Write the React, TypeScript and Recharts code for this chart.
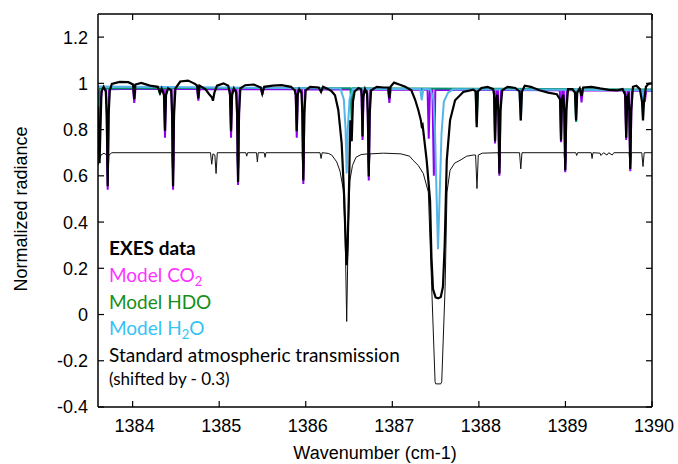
import { LineChart, Line, XAxis, YAxis } from "recharts";

// wavenumber (cm-1), normalized radiance
const exesData: [number, number][] = [
  [1383.6, 0.9], [1383.61, 0.7], [1383.618, 0.655], [1383.628, 0.8], [1383.64, 0.965],
  [1383.665, 0.985], [1383.69, 0.965], [1383.702, 0.86], [1383.712, 0.555], [1383.722, 0.86],
  [1383.737, 0.97], [1383.76, 0.998], [1383.85, 1.006], [1383.95, 1.005], [1384.005, 0.995],
  [1384.019, 0.932], [1384.032, 0.995], [1384.1, 1.002], [1384.2, 0.99], [1384.29, 0.985],
  [1384.316, 0.958], [1384.335, 0.978], [1384.362, 0.95], [1384.374, 0.795], [1384.386, 0.95],
  [1384.41, 0.978], [1384.445, 0.97], [1384.456, 0.87], [1384.467, 0.555], [1384.478, 0.87],
  [1384.495, 0.978], [1384.55, 1.008], [1384.64, 1.012], [1384.72, 0.998], [1384.745, 0.99],
  [1384.759, 0.935], [1384.772, 0.99], [1384.84, 0.975], [1384.88, 0.955], [1384.915, 0.94],
  [1384.928, 0.925], [1384.945, 0.96], [1384.975, 0.99], [1385.05, 1.0], [1385.105, 0.99],
  [1385.125, 0.95], [1385.137, 0.793], [1385.149, 0.95], [1385.17, 0.978], [1385.196, 0.96],
  [1385.207, 0.87], [1385.218, 0.573], [1385.229, 0.87], [1385.245, 0.978], [1385.3, 0.992],
  [1385.4, 0.995], [1385.48, 0.982], [1385.498, 0.955], [1385.52, 0.985], [1385.62, 0.99],
  [1385.72, 0.992], [1385.83, 0.985], [1385.872, 0.97], [1385.885, 0.95], [1385.896, 0.793],
  [1385.907, 0.95], [1385.925, 0.975], [1385.95, 0.96], [1385.961, 0.87], [1385.972, 0.58],
  [1385.983, 0.87], [1386.0, 0.97], [1386.05, 0.985], [1386.15, 0.982], [1386.177, 0.963],
  [1386.2, 0.985], [1386.26, 0.975], [1386.3, 0.965], [1386.338, 0.948], [1386.376, 0.885],
  [1386.415, 0.74], [1386.445, 0.5], [1386.462, 0.3], [1386.473, 0.213], [1386.484, 0.3],
  [1386.5, 0.55], [1386.515, 0.84], [1386.531, 0.75], [1386.545, 0.92], [1386.565, 0.965],
  [1386.61, 0.98], [1386.64, 0.975], [1386.648, 0.94], [1386.656, 0.77], [1386.664, 0.94],
  [1386.685, 0.975], [1386.708, 0.955], [1386.718, 0.86], [1386.728, 0.597], [1386.738, 0.86],
  [1386.755, 0.97], [1386.82, 0.985], [1386.9, 0.982], [1386.953, 0.982], [1386.966, 0.935],
  [1386.979, 0.985], [1387.02, 1.003], [1387.08, 0.995], [1387.15, 0.985], [1387.22, 0.97],
  [1387.263, 0.93], [1387.3, 0.885], [1387.33, 0.84], [1387.34, 0.815], [1387.35, 0.82],
  [1387.397, 0.667], [1387.436, 0.494], [1387.452, 0.25], [1387.47, 0.11], [1387.5, 0.074],
  [1387.53, 0.07], [1387.56, 0.076], [1387.585, 0.12], [1387.605, 0.3], [1387.629, 0.667],
  [1387.667, 0.84], [1387.725, 0.927], [1387.82, 0.963], [1387.935, 0.973], [1387.963, 0.965],
  [1387.975, 0.81], [1387.988, 0.965], [1388.03, 0.98], [1388.1, 0.985], [1388.165, 0.975],
  [1388.176, 0.95], [1388.187, 0.75], [1388.199, 0.93], [1388.214, 0.95], [1388.225, 0.88],
  [1388.237, 0.61], [1388.249, 0.88], [1388.27, 0.97], [1388.33, 0.985], [1388.42, 0.98],
  [1388.47, 0.965], [1388.484, 0.84], [1388.498, 0.965], [1388.53, 0.99], [1388.6, 0.985],
  [1388.7, 0.97], [1388.8, 0.96], [1388.9, 0.953], [1388.938, 0.93], [1388.949, 0.753],
  [1388.96, 0.93], [1388.975, 0.95], [1388.987, 0.88], [1388.998, 0.624], [1389.01, 0.88],
  [1389.03, 0.975], [1389.08, 0.975], [1389.11, 0.96], [1389.123, 0.84], [1389.136, 0.96],
  [1389.165, 0.978], [1389.186, 0.945], [1389.205, 0.982], [1389.3, 0.985], [1389.4, 0.978],
  [1389.5, 0.972], [1389.6, 0.97], [1389.66, 0.975], [1389.69, 0.95], [1389.702, 0.765],
  [1389.714, 0.94], [1389.728, 0.95], [1389.738, 0.88], [1389.749, 0.63], [1389.76, 0.88],
  [1389.78, 0.985], [1389.82, 0.99], [1389.86, 0.975], [1389.885, 0.92], [1389.896, 0.84],
  [1389.907, 0.92], [1389.93, 0.985], [1389.96, 0.998], [1390.0, 1.0],
];

const co2Model: [number, number][] = [
  [1383.6, 0.97], [1383.61, 0.85], [1383.62, 0.76], [1383.632, 0.93], [1383.65, 0.977],
  [1383.695, 0.975], [1383.712, 0.54], [1383.729, 0.975], [1384.005, 0.977], [1384.019, 0.915],
  [1384.033, 0.977], [1384.36, 0.976], [1384.374, 0.765], [1384.388, 0.976], [1384.45, 0.976],
  [1384.467, 0.54], [1384.484, 0.976], [1384.745, 0.976], [1384.759, 0.925], [1384.773, 0.976],
  [1385.123, 0.975], [1385.137, 0.765], [1385.151, 0.975], [1385.201, 0.975], [1385.218, 0.56],
  [1385.235, 0.975], [1385.484, 0.975], [1385.498, 0.95], [1385.512, 0.975], [1385.882, 0.974],
  [1385.896, 0.765], [1385.91, 0.974], [1385.955, 0.974], [1385.972, 0.565], [1385.989, 0.974],
  [1386.642, 0.973], [1386.656, 0.755], [1386.67, 0.973], [1386.711, 0.973], [1386.728, 0.58],
  [1386.745, 0.973], [1386.952, 0.972], [1386.966, 0.915], [1386.98, 0.972], [1387.407, 0.972],
  [1387.421, 0.76], [1387.435, 0.972], [1387.463, 0.972], [1387.48, 0.6], [1387.497, 0.972],
  [1388.173, 0.971], [1388.187, 0.74], [1388.201, 0.971], [1388.22, 0.971], [1388.237, 0.6],
  [1388.254, 0.971], [1388.935, 0.97], [1388.949, 0.745], [1388.963, 0.97], [1388.981, 0.97],
  [1388.998, 0.615], [1389.015, 0.97], [1389.172, 0.97], [1389.186, 0.918], [1389.2, 0.97],
  [1389.688, 0.969], [1389.702, 0.755], [1389.716, 0.969], [1389.732, 0.969], [1389.749, 0.62],
  [1389.766, 0.969], [1389.904, 0.968], [1389.918, 0.92], [1389.932, 0.968], [1390.0, 0.968],
];

const hdoModel: [number, number][] = [
  [1383.6, 0.8], [1383.607, 0.9], [1383.618, 0.978], [1384.302, 0.98], [1384.316, 0.952],
  [1384.33, 0.98], [1386.517, 0.979], [1386.531, 0.83], [1386.545, 0.979], [1387.961, 0.977],
  [1387.975, 0.83], [1387.989, 0.977], [1389.109, 0.975], [1389.123, 0.833], [1389.137, 0.975],
  [1390.0, 0.973],
];

const h2oModel: [number, number][] = [
  [1383.6, 0.986], [1386.4, 0.978], [1386.44, 0.93], [1386.46, 0.8], [1386.473, 0.61],
  [1386.486, 0.8], [1386.506, 0.93], [1386.546, 0.977], [1387.322, 0.976], [1387.34, 0.927],
  [1387.358, 0.976], [1387.44, 0.975], [1387.475, 0.93], [1387.494, 0.78], [1387.513, 0.49],
  [1387.528, 0.282], [1387.545, 0.49], [1387.568, 0.78], [1387.595, 0.92], [1387.644, 0.96],
  [1387.7, 0.974], [1388.468, 0.973], [1388.484, 0.84], [1388.5, 0.973], [1389.882, 0.97],
  [1389.896, 0.85], [1389.91, 0.97], [1390.0, 0.97],
];

// standard atmospheric transmission, already shifted by -0.3
const stdTransmission: [number, number][] = [
  [1383.6, 0.645], [1383.615, 0.67], [1383.635, 0.69], [1383.67, 0.698], [1383.698, 0.69],
  [1383.712, 0.57], [1383.726, 0.69], [1383.76, 0.7], [1384.453, 0.7], [1384.467, 0.565],
  [1384.481, 0.7], [1384.9, 0.7], [1384.914, 0.65], [1384.928, 0.695], [1384.95, 0.69],
  [1384.964, 0.61], [1384.978, 0.7], [1385.204, 0.7], [1385.218, 0.575], [1385.232, 0.7],
  [1385.308, 0.7], [1385.318, 0.685], [1385.328, 0.7], [1385.431, 0.7], [1385.441, 0.66],
  [1385.451, 0.7], [1385.52, 0.7], [1385.53, 0.68], [1385.54, 0.7], [1385.958, 0.7],
  [1385.972, 0.585], [1385.986, 0.7], [1386.165, 0.7], [1386.177, 0.675], [1386.189, 0.7],
  [1386.26, 0.697], [1386.3, 0.69], [1386.358, 0.66], [1386.396, 0.62], [1386.434, 0.54],
  [1386.455, 0.35], [1386.473, -0.03], [1386.49, 0.35], [1386.51, 0.58], [1386.54, 0.645],
  [1386.58, 0.68], [1386.64, 0.692], [1386.714, 0.695], [1386.728, 0.6], [1386.742, 0.695],
  [1386.9, 0.698], [1387.1, 0.695], [1387.2, 0.685], [1387.24, 0.667], [1387.3, 0.645],
  [1387.358, 0.61], [1387.416, 0.53], [1387.455, 0.12], [1387.494, -0.29], [1387.502, -0.3],
  [1387.56, -0.3], [1387.571, -0.29], [1387.61, 0.12], [1387.632, 0.53], [1387.667, 0.624],
  [1387.72, 0.655], [1387.782, 0.667], [1387.86, 0.685], [1387.936, 0.69], [1387.962, 0.69],
  [1387.978, 0.545], [1387.993, 0.69], [1388.04, 0.698], [1388.223, 0.7], [1388.237, 0.615],
  [1388.251, 0.7], [1388.47, 0.7], [1388.484, 0.63], [1388.498, 0.7], [1388.984, 0.7],
  [1388.998, 0.62], [1389.012, 0.7], [1389.12, 0.7], [1389.13, 0.688], [1389.14, 0.7],
  [1389.298, 0.7], [1389.308, 0.675], [1389.318, 0.7], [1389.4, 0.698], [1389.41, 0.688],
  [1389.44, 0.7], [1389.48, 0.69], [1389.5, 0.7], [1389.54, 0.69], [1389.56, 0.7],
  [1389.735, 0.7], [1389.749, 0.63], [1389.763, 0.7], [1389.882, 0.7], [1389.896, 0.64],
  [1389.91, 0.7], [1390.0, 0.7],
];

const xTicks = [1384, 1385, 1386, 1387, 1388, 1389, 1390];
const yTicks = [-0.4, -0.2, 0, 0.2, 0.4, 0.6, 0.8, 1, 1.2];

const toPoints = (s: [number, number][]) => s.map(([x, y]) => ({ x, y }));

const tickFont = "'Liberation Sans', Arial, sans-serif";
const legendFont = "Lato, 'Noto Sans', sans-serif";
const TICK = 6;

function BottomTick({ x, y, payload }: any) {
  return (
    <g>
      <line x1={x} y1={y} x2={x} y2={y - TICK} stroke="#000" strokeWidth={1.2} />
      <text x={x + 2} y={y + 25} textAnchor="middle" fontSize={18} fontFamily={tickFont} fill="#000">
        {payload.value}
      </text>
    </g>
  );
}

function TopTick({ x, y }: any) {
  return <line x1={x} y1={y} x2={x} y2={y + TICK} stroke="#000" strokeWidth={1.2} />;
}

function LeftTick({ x, y, payload }: any) {
  return (
    <g>
      <line x1={x} y1={y} x2={x + TICK} y2={y} stroke="#000" strokeWidth={1.2} />
      <text x={x - 10} y={y} dy="0.36em" textAnchor="end" fontSize={18} fontFamily={tickFont} fill="#000">
        {String(Math.round(payload.value * 10) / 10)}
      </text>
    </g>
  );
}

function RightTick({ x, y }: any) {
  return <line x1={x} y1={y} x2={x - TICK} y2={y} stroke="#000" strokeWidth={1.2} />;
}

export default function App() {
  const axisLine = { stroke: "#000", strokeWidth: 1.5 };
  return (
    <div style={{ position: "absolute", left: 0, top: 0, width: 678, height: 464, background: "#fff" }}>
      <LineChart width={678} height={464} margin={{ top: 4, right: 16, bottom: 27, left: 38 }}>
        <XAxis
          xAxisId="b"
          dataKey="x"
          type="number"
          domain={[1383.6, 1390]}
          allowDataOverflow
          ticks={xTicks}
          height={30}
          tickSize={0}
          tickMargin={0}
          axisLine={axisLine}
          tickLine={false}
          tick={<BottomTick />}
        />
        <XAxis
          xAxisId="t"
          orientation="top"
          dataKey="x"
          type="number"
          domain={[1383.6, 1390]}
          allowDataOverflow
          ticks={xTicks}
          height={10}
          tickSize={0}
          tickMargin={0}
          axisLine={axisLine}
          tickLine={false}
          tick={<TopTick />}
        />
        <YAxis
          yAxisId="l"
          type="number"
          domain={[-0.4, 1.3]}
          allowDataOverflow
          ticks={yTicks}
          width={60}
          tickSize={0}
          tickMargin={0}
          axisLine={axisLine}
          tickLine={false}
          tick={<LeftTick />}
        />
        <YAxis
          yAxisId="r"
          orientation="right"
          type="number"
          domain={[-0.4, 1.3]}
          allowDataOverflow
          ticks={yTicks}
          width={10}
          tickSize={0}
          tickMargin={0}
          axisLine={axisLine}
          tickLine={false}
          tick={<RightTick />}
        />
        <Line xAxisId="b" yAxisId="l" data={toPoints(stdTransmission)} dataKey="y" type="linear"
          stroke="#111" strokeWidth={1} dot={false} activeDot={false} isAnimationActive={false} />
        <Line xAxisId="b" yAxisId="l" data={toPoints(co2Model)} dataKey="y" type="linear"
          stroke="#9000f0" strokeWidth={2} dot={false} activeDot={false} isAnimationActive={false} />
        <Line xAxisId="b" yAxisId="l" data={toPoints(hdoModel)} dataKey="y" type="linear"
          stroke="#00936a" strokeWidth={2} dot={false} activeDot={false} isAnimationActive={false} />
        <Line xAxisId="b" yAxisId="l" data={toPoints(h2oModel)} dataKey="y" type="linear"
          stroke="#56b4e9" strokeWidth={2} dot={false} activeDot={false} isAnimationActive={false} />
        <Line xAxisId="b" yAxisId="l" data={toPoints(exesData)} dataKey="y" type="linear"
          stroke="#000" strokeWidth={2.2} dot={false} activeDot={false} isAnimationActive={false} />
      </LineChart>
      <svg width={678} height={464} style={{ position: "absolute", left: 0, top: 0, pointerEvents: "none" }}>
        <text x={27} y={209} transform="rotate(-90 27 209)" textAnchor="middle" fontSize={18}
          fontFamily={tickFont} fill="#000">
          Normalized radiance
        </text>
        <text x={375} y={459} textAnchor="middle" fontSize={18} fontFamily={tickFont} fill="#000">
          Wavenumber (cm-1)
        </text>
        <g fontFamily={legendFont} fontSize={19}>
          <text x={109} y={255} fontWeight="bold" fill="#000">EXES data</text>
          <text x={109} y={282} fill="#ff33ff">
            Model CO<tspan dy={4} fontSize={13}>2</tspan>
          </text>
          <text x={109} y={309} fill="#168f16">Model HDO</text>
          <text x={109} y={335} fill="#33c3f5">
            Model H<tspan dy={4} fontSize={13}>2</tspan><tspan dy={-4}>O</tspan>
          </text>
          <text x={109} y={362} fill="#000">Standard atmospheric transmission</text>
          <text x={109} y={385} fontSize={17} fill="#000">(shifted by - 0.3)</text>
        </g>
      </svg>
    </div>
  );
}
